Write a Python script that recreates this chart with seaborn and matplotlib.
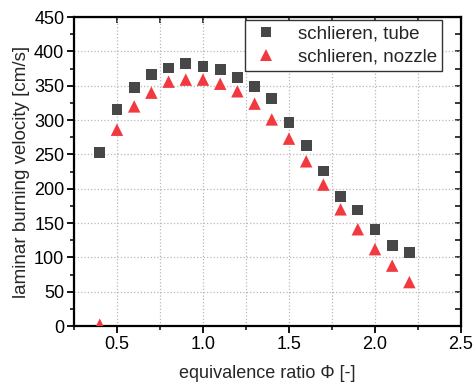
import matplotlib
matplotlib.use("Agg")
import matplotlib.pyplot as plt
import seaborn as sns
import pandas as pd
from matplotlib.ticker import MultipleLocator

phi = [0.4, 0.5, 0.6, 0.7, 0.8, 0.9, 1.0, 1.1, 1.2, 1.3, 1.4, 1.5, 1.6, 1.7, 1.8, 1.9, 2.0, 2.1, 2.2]
tube = [253, 316, 347, 366, 376, 383, 378, 374, 362, 349, 332, 297, 263, 226, 189, 169, 141, 117, 107]
nozzle = [2, 286, 320, 340, 356, 359, 359, 353, 342, 324, 301, 273, 240, 206, 170, 141, 112, 88, 64]
labels = ["schlieren, tube", "schlieren, nozzle"]

df = pd.concat([
    pd.DataFrame({"phi": phi, "v": tube, "series": labels[0]}),
    pd.DataFrame({"phi": phi, "v": nozzle, "series": labels[1]}),
])

sns.set_style("white")
plt.rcParams['font.family'] = ['Liberation Sans', 'DejaVu Sans']

fig = plt.figure(figsize=(4.73, 3.9), dpi=100)
ax = fig.add_axes([0.1564, 0.164, 0.8182, 0.792])

sns.scatterplot(data=df, x="phi", y="v", hue="series", style="series", size="series",
                palette={labels[0]: "#474747", labels[1]: "#f2393f"},
                markers={labels[0]: "s", labels[1]: "^"},
                sizes={labels[0]: 60, labels[1]: 80},
                linewidth=0, ax=ax, zorder=3)

ax.set_xlim(0.25, 2.5)
ax.set_ylim(0, 450)
ax.xaxis.set_major_locator(MultipleLocator(0.5))
ax.xaxis.set_minor_locator(MultipleLocator(0.25))
ax.yaxis.set_major_locator(MultipleLocator(50))
ax.yaxis.set_minor_locator(MultipleLocator(25))
ax.set_xticks([0.5, 1.0, 1.5, 2.0, 2.5])
ax.set_xticklabels(["0.5", "1.0", "1.5", "2.0", "2.5"])

ax.grid(True, which="both", axis="x", color="#b8b8b8", linestyle=":", linewidth=0.9)
ax.grid(True, which="major", axis="y", color="#b8b8b8", linestyle=":", linewidth=0.9)
ax.set_axisbelow(True)

for sp in ax.spines.values():
    sp.set_color("black")
    sp.set_linewidth(1.6)

ax.tick_params(axis="both", which="major", direction="out", length=5, width=1.3,
               labelsize=13, colors="black", bottom=True, left=True, pad=2)
ax.tick_params(axis="both", which="minor", direction="out", length=3, width=1.3,
               bottom=True, left=True)
ax2 = ax.secondary_xaxis("top")
ax2.xaxis.set_major_locator(MultipleLocator(0.25))
ax2.tick_params(direction="in", length=4, width=1.3, labeltop=False)
ax3 = ax.secondary_yaxis("right")
ax3.yaxis.set_major_locator(MultipleLocator(25))
ax3.tick_params(direction="in", length=4, width=1.3, labelright=False)

ax.set_xlabel("equivalence ratio Φ [-]", fontsize=13, labelpad=9)
ax.set_ylabel("laminar burning velocity [cm/s]", fontsize=13.5, labelpad=3)

leg = ax.legend(loc="upper right", fontsize=13.5, frameon=True, fancybox=False,
                edgecolor="#333333", framealpha=1, borderpad=0.3, handletextpad=0.9,
                labelspacing=0.3, handlelength=1.6, markerscale=1.0,
                bbox_to_anchor=(0.952, 0.99), borderaxespad=0.0)
leg.get_frame().set_linewidth(1.0)

fig.savefig("out.png", dpi=100)
